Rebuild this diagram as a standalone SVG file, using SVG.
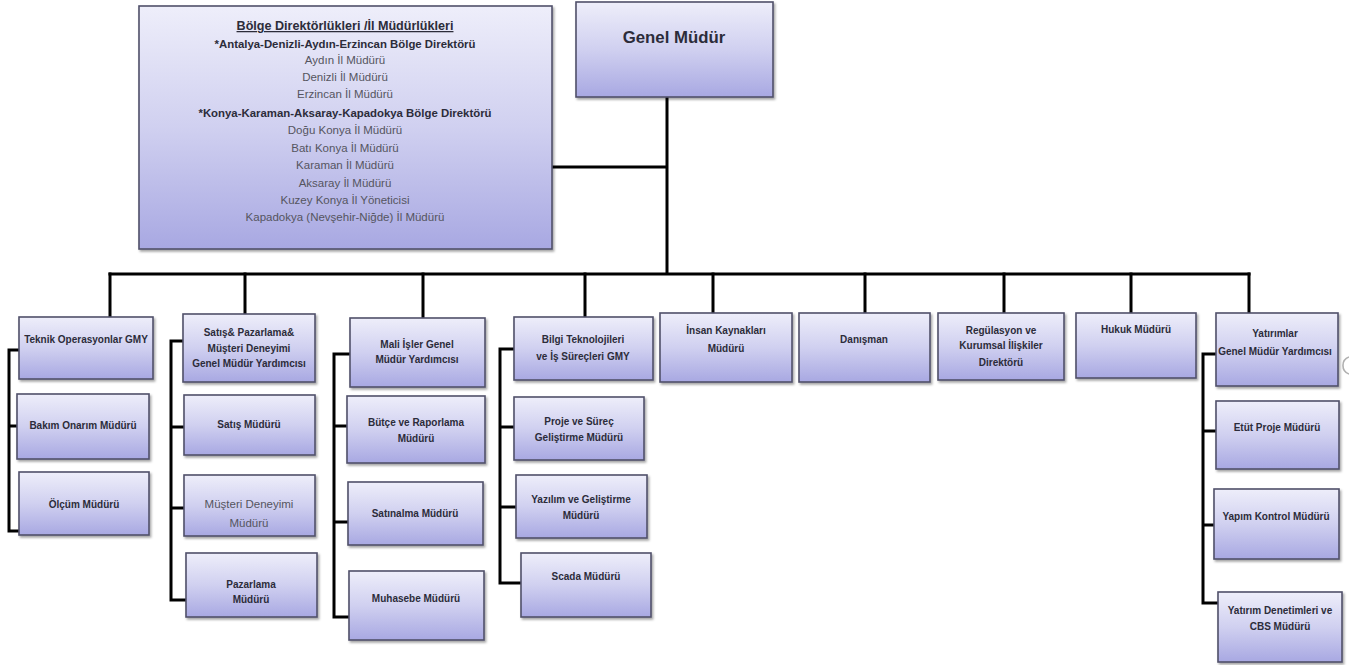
<svg xmlns="http://www.w3.org/2000/svg" width="1349" height="665" viewBox="0 0 1349 665">
<defs>
<linearGradient id="g" x1="0" y1="0" x2="0" y2="1">
<stop offset="0" stop-color="#eeeefa"/>
<stop offset="0.5" stop-color="#d0d0f0"/>
<stop offset="1" stop-color="#a8a8e2"/>
</linearGradient>
<filter id="sh" x="-10%" y="-10%" width="120%" height="130%">
<feDropShadow dx="1.5" dy="2" stdDeviation="1.2" flood-color="#000" flood-opacity="0.35"/>
</filter>
</defs>
<style>
.b{fill:url(#g);stroke:#50506a;stroke-width:1.6;filter:url(#sh)}
.t{font-family:"Liberation Sans",Arial,sans-serif;font-size:10px;font-weight:bold;fill:#2c2c3a;text-anchor:middle}
.r{font-family:"Liberation Sans",Arial,sans-serif;font-size:11.5px;fill:#55555f;text-anchor:middle}
.h{font-family:"Liberation Sans",Arial,sans-serif;font-size:11.4px;font-weight:bold;fill:#2c2c3a;text-anchor:middle}
.c{fill:none;stroke:#000;stroke-width:3;stroke-linecap:square}
</style>
<rect width="1349" height="665" fill="#fff"/>
<g id="connectors">
<path class="c" d="M552 167H667M667 97V274M110 274H1249"/>
<path class="c" d="M110 274V317M245 274V314M423 274V318M585 274V317M713 274V313M865 274V315M1004 274V313M1131 274V313M1249 274V313"/>
<path class="c" d="M19 350H9V531H19M9 426H17"/>
<path class="c" d="M183 341H171V600H186M171 427H184M171 508H184"/>
<path class="c" d="M350 354H334V617H349M334 426H347M334 522H348"/>
<path class="c" d="M514 349H500V583H521M500 427H514M500 507H516"/>
<path class="c" d="M1216 354H1203V603H1218M1203 431H1216M1203 525H1214"/>
</g>
<g id="bolge">
<rect class="b" x="139" y="6" width="413" height="243"/>
<text class="h" x="345" y="30" style="font-size:12.6px" text-decoration="underline">Bölge Direktörlükleri /İl Müdürlükleri</text>
<text class="h" x="345" y="48">*Antalya-Denizli-Aydın-Erzincan Bölge Direktörü</text>
<text class="r" x="345" y="64">Aydın İl Müdürü</text>
<text class="r" x="345" y="81">Denizli İl Müdürü</text>
<text class="r" x="345" y="98">Erzincan İl Müdürü</text>
<text class="h" x="345" y="117">*Konya-Karaman-Aksaray-Kapadokya Bölge Direktörü</text>
<text class="r" x="345" y="134">Doğu Konya İl Müdürü</text>
<text class="r" x="345" y="152">Batı Konya İl Müdürü</text>
<text class="r" x="345" y="169">Karaman İl Müdürü</text>
<text class="r" x="345" y="187">Aksaray İl  Müdürü</text>
<text class="r" x="345" y="204">Kuzey Konya İl Yöneticisi</text>
<text class="r" x="345" y="221">Kapadokya (Nevşehir-Niğde) İl Müdürü</text>
</g>
<g id="genel-mudur">
<rect class="b" x="576" y="2" width="197" height="95"/>
<text x="674" y="43" style="font-family:'Liberation Sans',Arial,sans-serif;font-size:16.8px;font-weight:bold;fill:#2c2c3a;text-anchor:middle">Genel Müdür</text>
</g>
<g id="teknik">
<rect class="b" x="19" y="317" width="134" height="62"/>
<text class="t" x="86" y="343">Teknik Operasyonlar GMY</text>
</g>
<g id="bakim">
<rect class="b" x="17" y="394" width="132" height="65"/>
<text class="t" x="83" y="429">Bakım Onarım Müdürü</text>
</g>
<g id="olcum">
<rect class="b" x="19" y="472" width="130" height="63"/>
<text class="t" x="84" y="508">Ölçüm Müdürü</text>
</g>
<g id="satis-gmy">
<rect class="b" x="183" y="314" width="132" height="68"/>
<text class="t" x="249" y="336">Satış&amp; Pazarlama&amp;</text>
<text class="t" x="249" y="352">Müşteri Deneyimi</text>
<text class="t" x="249" y="367">Genel Müdür Yardımcısı</text>
</g>
<g id="satis">
<rect class="b" x="184" y="395" width="131" height="60"/>
<text class="t" x="249" y="428">Satış Müdürü</text>
</g>
<g id="musteri">
<rect class="b" x="184" y="475" width="131" height="61"/>
<text class="r" x="249" y="508">Müşteri Deneyimi</text>
<text class="r" x="249" y="527">Müdürü</text>
</g>
<g id="pazarlama">
<rect class="b" x="186" y="553" width="131" height="64"/>
<text class="t" x="251" y="588">Pazarlama</text>
<text class="t" x="251" y="603">Müdürü</text>
</g>
<g id="mali">
<rect class="b" x="350" y="318" width="135" height="69"/>
<text class="t" x="417" y="348">Mali İşler Genel</text>
<text class="t" x="417" y="363">Müdür Yardımcısı</text>
</g>
<g id="butce">
<rect class="b" x="347" y="396" width="138" height="67"/>
<text class="t" x="416" y="426">Bütçe ve Raporlama</text>
<text class="t" x="416" y="442">Müdürü</text>
</g>
<g id="satinalma">
<rect class="b" x="348" y="482" width="135" height="63"/>
<text class="t" x="415" y="517">Satınalma Müdürü</text>
</g>
<g id="muhasebe">
<rect class="b" x="349" y="571" width="135" height="69"/>
<text class="t" x="416" y="602">Muhasebe Müdürü</text>
</g>
<g id="bilgi">
<rect class="b" x="514" y="317" width="139" height="63"/>
<text class="t" x="583" y="343">Bilgi Teknolojileri</text>
<text class="t" x="583" y="360">ve İş Süreçleri GMY</text>
</g>
<g id="proje">
<rect class="b" x="514" y="397" width="130" height="63"/>
<text class="t" x="579" y="425">Proje ve Süreç</text>
<text class="t" x="579" y="441">Geliştirme Müdürü</text>
</g>
<g id="yazilim">
<rect class="b" x="516" y="475" width="131" height="63"/>
<text class="t" x="581" y="503">Yazılım ve Geliştirme</text>
<text class="t" x="581" y="519">Müdürü</text>
</g>
<g id="scada">
<rect class="b" x="521" y="553" width="130" height="64"/>
<text class="t" x="586" y="580">Scada Müdürü</text>
</g>
<g id="insan">
<rect class="b" x="660" y="313" width="132" height="69"/>
<text class="t" x="726" y="334">İnsan Kaynakları</text>
<text class="t" x="726" y="352">Müdürü</text>
</g>
<g id="danisman">
<rect class="b" x="799" y="313" width="131" height="69"/>
<text class="t" x="864" y="343">Danışman</text>
</g>
<g id="regulasyon">
<rect class="b" x="938" y="313" width="126" height="67"/>
<text class="t" x="1001" y="334">Regülasyon ve</text>
<text class="t" x="1001" y="349">Kurumsal İlişkiler</text>
<text class="t" x="1001" y="366">Direktörü</text>
</g>
<g id="hukuk">
<rect class="b" x="1076" y="313" width="120" height="65"/>
<text class="t" x="1136" y="333">Hukuk Müdürü</text>
</g>
<g id="yatirimlar">
<rect class="b" x="1216" y="313" width="122" height="73"/>
<text class="t" x="1275" y="337">Yatırımlar</text>
<text class="t" x="1275" y="355">Genel Müdür Yardımcısı</text>
</g>
<g id="etut">
<rect class="b" x="1216" y="401" width="123" height="68"/>
<text class="t" x="1277" y="431">Etüt Proje Müdürü</text>
</g>
<g id="yapim">
<rect class="b" x="1214" y="489" width="125" height="70"/>
<text class="t" x="1276" y="520">Yapım Kontrol Müdürü</text>
</g>
<g id="denetim">
<rect class="b" x="1218" y="592" width="124" height="70"/>
<text class="t" x="1280" y="614">Yatırım Denetimleri ve</text>
<text class="t" x="1280" y="630">CBS Müdürü</text>
</g>
<path d="M1349 357A9 9 0 0 0 1349 374" fill="none" stroke="#b0b0b0" stroke-width="1.6"/>
</svg>
